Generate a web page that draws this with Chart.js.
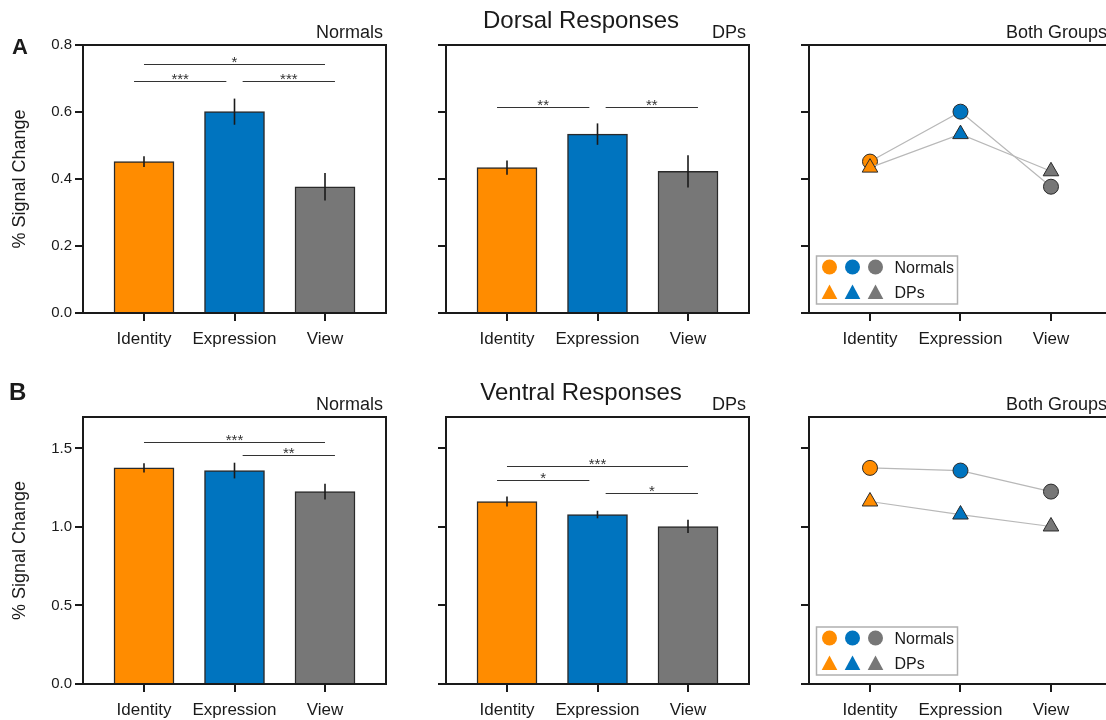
<!DOCTYPE html>
<html>
<head>
<meta charset="utf-8">
<title>Dorsal and Ventral Responses</title>
<script src="https://cdn.jsdelivr.net/npm/chart.js@4.4.0/dist/chart.umd.min.js"></script>
<style>
  html, body { margin: 0; padding: 0; background: #fff; overflow: hidden; width: 1106px; height: 720px; }
  .panel { position: absolute; }
</style>
</head>
<body>
<canvas id="a1" class="panel" width="400" height="360" style="left:0;top:0"></canvas>
<canvas id="a2" class="panel" width="360" height="360" style="left:400px;top:0"></canvas>
<canvas id="a3" class="panel" width="346" height="360" style="left:760px;top:0"></canvas>
<canvas id="b1" class="panel" width="400" height="360" style="left:0;top:360px"></canvas>
<canvas id="b2" class="panel" width="360" height="360" style="left:400px;top:360px"></canvas>
<canvas id="b3" class="panel" width="346" height="360" style="left:760px;top:360px"></canvas>
<script>
// data
var categories = ['Identity', 'Expression', 'View'];
var catColors = ['#ff8c00', '#0074bf', '#777777'];

var dorsalNormals = [0.452, 0.601, 0.377];
var dorsalNormalsErr = [0.016, 0.039, 0.041];
var dorsalDPs = [0.434, 0.534, 0.423];
var dorsalDPsErr = [0.021, 0.032, 0.048];

var ventralNormals = [1.376, 1.359, 1.225];
var ventralNormalsErr = [0.030, 0.050, 0.050];
var ventralDPs = [1.162, 1.079, 1.003];
var ventralDPsErr = [0.032, 0.024, 0.042];

// significance brackets: [from category, to category, level, stars]
var dorsalNormalsSig = [[0, 2, 0.742, '*'], [0, 1, 0.692, '***'], [1, 2, 0.692, '***']];
var dorsalDPsSig = [[0, 1, 0.616, '**'], [1, 2, 0.616, '**']];
var ventralNormalsSig = [[0, 2, 1.541, '***'], [1, 2, 1.459, '**']];
var ventralDPsSig = [[0, 2, 1.389, '***'], [0, 1, 1.302, '*'], [1, 2, 1.219, '*']];

var dorsalTicks = [0, 0.2, 0.4, 0.6, 0.8];
var ventralTicks = [0, 0.5, 1.0, 1.5];

var FONT = "'Liberation Sans', Arial, Helvetica, sans-serif";
var INK = '#1a1a1a';

// Function to turn a list of values into points
function toPoints(values) {
    return values.map(function (v, i) { return { x: i, y: v }; });
}

// Function to build the axes for one panel
function makeScales(cfg) {
    var gridOpts = { offset: false, drawOnChartArea: false, drawTicks: true, tickLength: 8,
        tickWidth: 2, tickColor: INK, lineWidth: 2, color: INK };
    return {
        x: {
            type: 'linear', min: -0.674, max: cfg.xMax || 2.674, offset: false,
            afterFit: function (s) {
                s.height = cfg.xh;
                // labels sit well inside the box, no extra room needed
                s.paddingLeft = 0;
                s.paddingRight = 0;
            },
            afterBuildTicks: function (s) {
                s.ticks = categories.map(function (c, i) { return { value: i }; });
            },
            ticks: {
                callback: function (v) { return categories[v]; },
                font: { family: FONT, size: 17 }, color: INK, padding: 8,
                maxRotation: 0, autoSkip: false
            },
            grid: gridOpts,
            border: { display: true, color: INK, width: 2 }
        },
        y: {
            type: 'linear', min: 0, max: cfg.yMax,
            afterFit: function (s) { s.width = cfg.yw; },
            afterBuildTicks: function (s) {
                s.ticks = cfg.yTicks.map(function (v) { return { value: v }; });
            },
            ticks: {
                callback: function (v) { return cfg.showY ? v.toFixed(1) : ''; },
                font: { family: FONT, size: 15 }, color: INK, padding: 3, autoSkip: false
            },
            grid: gridOpts,
            border: { display: true, color: INK, width: 2 },
            title: {
                display: !!cfg.showY, text: '% Signal Change', color: INK,
                font: { family: FONT, size: 18 }, padding: { top: 9, bottom: 0 }
            }
        }
    };
}

// Plugin drawing box, error bars, brackets, labels and legend
function panelPlugin(cfg) {
    return {
        id: 'panelDecor',
        afterDatasetsDraw: function (chart) {
            var ctx = chart.ctx;
            var xs = chart.scales.x, ys = chart.scales.y;
            ctx.save();

            // error bars
            if (cfg.errors) {
                var meta = chart.getDatasetMeta(0);
                ctx.strokeStyle = INK;
                ctx.lineWidth = 1.6;
                meta.data.forEach(function (bar, i) {
                    var v = cfg.values[i], e = cfg.errors[i];
                    ctx.beginPath();
                    ctx.moveTo(bar.x, ys.getPixelForValue(v - e));
                    ctx.lineTo(bar.x, ys.getPixelForValue(v + e));
                    ctx.stroke();
                });
            }

            // significance brackets
            if (cfg.sig) {
                cfg.sig.forEach(function (s) {
                    var x1 = s[0], x2 = s[1];
                    if (x2 - x1 === 1) {
                        x1 = s[0] - 0.11 + s[0] * 0.2;
                        x2 = x1 + 1.02;
                    }
                    var p1 = xs.getPixelForValue(x1), p2 = xs.getPixelForValue(x2);
                    var py = Math.round(ys.getPixelForValue(s[2])) + 0.5;
                    ctx.strokeStyle = '#333';
                    ctx.lineWidth = 1;
                    ctx.beginPath();
                    ctx.moveTo(p1, py);
                    ctx.lineTo(p2, py);
                    ctx.stroke();
                    ctx.fillStyle = '#333';
                    ctx.font = '15px ' + FONT;
                    ctx.textAlign = 'center';
                    ctx.textBaseline = 'alphabetic';
                    ctx.fillText(s[3], (p1 + p2) / 2, py + 2);
                });
            }
            ctx.restore();
        },
        afterDraw: function (chart) {
            var ctx = chart.ctx;
            var a = chart.chartArea;
            ctx.save();

            // box round the plot (right side of last column runs off the page)
            ctx.strokeStyle = INK;
            ctx.lineWidth = 2;
            ctx.beginPath();
            ctx.moveTo(a.left, a.bottom);
            ctx.lineTo(a.left, a.top);
            ctx.lineTo(a.right + 1, a.top);
            if (!cfg.openRight) {
                ctx.moveTo(a.right, a.top);
                ctx.lineTo(a.right, a.bottom);
            }
            ctx.moveTo(a.left, a.bottom);
            ctx.lineTo(a.right + 1, a.bottom);
            ctx.stroke();

            // group label at top right
            ctx.fillStyle = INK;
            ctx.font = '18px ' + FONT;
            ctx.textAlign = 'right';
            ctx.textBaseline = 'alphabetic';
            ctx.fillText(cfg.label, a.right - (cfg.openRight ? -1 : 3), a.top - 7);

            // extra texts (panel letters, row titles)
            (cfg.extras || []).forEach(function (t) {
                ctx.font = t.font;
                ctx.textAlign = t.align;
                ctx.fillText(t.text, t.x, t.y);
            });

            // legend of the both-groups panel
            if (cfg.legend) {
                var bx = a.left + 7.5, by = a.bottom - 57, bw = 141, bh = 48;
                ctx.strokeStyle = '#b0b0b0';
                ctx.lineWidth = 1.5;
                ctx.strokeRect(bx, by, bw, bh);
                var mx = [13, 36, 59];
                catColors.forEach(function (c, i) {
                    ctx.fillStyle = c;
                    ctx.beginPath();
                    ctx.arc(bx + mx[i], by + 11, 7.5, 0, Math.PI * 2);
                    ctx.fill();
                    ctx.beginPath();
                    ctx.moveTo(bx + mx[i], by + 28.5);
                    ctx.lineTo(bx + mx[i] + 7.8, by + 43);
                    ctx.lineTo(bx + mx[i] - 7.8, by + 43);
                    ctx.closePath();
                    ctx.fill();
                });
                ctx.fillStyle = INK;
                ctx.font = '16px ' + FONT;
                ctx.textAlign = 'left';
                ctx.fillText('Normals', bx + 78, by + 17);
                ctx.fillText('DPs', bx + 78, by + 42);
            }
            ctx.restore();
        }
    };
}

// Function to create a bar panel
function barPanel(id, values, errors, sig, cfg) {
    cfg.values = values;
    cfg.errors = errors;
    cfg.sig = sig;
    return new Chart(document.getElementById(id), {
        type: 'bar',
        data: {
            datasets: [{
                data: toPoints(values),
                backgroundColor: catColors,
                borderColor: '#2a2a2a',
                borderWidth: 1.5,
                barThickness: 60
            }]
        },
        options: {
            responsive: false,
            animation: false,
            layout: { autoPadding: false, padding: { top: cfg.pt, right: cfg.pr, left: 0, bottom: 0 } },
            plugins: { legend: { display: false }, tooltip: { enabled: false } },
            scales: makeScales(cfg)
        },
        plugins: [panelPlugin(cfg)]
    });
}

// Function to create the both-groups panel
function groupPanel(id, normals, dps, cfg) {
    cfg.legend = true;
    cfg.openRight = true;
    return new Chart(document.getElementById(id), {
        type: 'line',
        data: {
            datasets: [{
                label: 'DPs',
                data: toPoints(dps),
                pointStyle: 'triangle',
                pointRadius: 9,
                pointBackgroundColor: catColors,
                pointBorderColor: '#2a2a2a',
                pointBorderWidth: 1,
                borderColor: '#b8b8b8',
                borderWidth: 1.2,
                tension: 0
            }, {
                label: 'Normals',
                data: toPoints(normals),
                pointStyle: 'circle',
                pointRadius: 7.5,
                pointBackgroundColor: catColors,
                pointBorderColor: '#2a2a2a',
                pointBorderWidth: 1,
                borderColor: '#b8b8b8',
                borderWidth: 1.2,
                tension: 0
            }]
        },
        options: {
            responsive: false,
            animation: false,
            layout: { autoPadding: false, padding: { top: cfg.pt, right: cfg.pr, left: 0, bottom: 0 } },
            plugins: { legend: { display: false }, tooltip: { enabled: false } },
            scales: makeScales(cfg)
        },
        plugins: [panelPlugin(cfg)]
    });
}

// Dorsal row
barPanel('a1', dorsalNormals, dorsalNormalsErr, dorsalNormalsSig, {
    label: 'Normals', showY: true, yMax: 0.8, yTicks: dorsalTicks,
    yw: 83, pt: 45, pr: 14, xh: 47,
    extras: [{ text: 'A', x: 12, y: 54, font: 'bold 22px ' + FONT, align: 'left' }]
});
barPanel('a2', dorsalDPs, dorsalDPsErr, dorsalDPsSig, {
    label: 'DPs', showY: false, yMax: 0.8, yTicks: dorsalTicks,
    yw: 46, pt: 45, pr: 11, xh: 47,
    extras: [{ text: 'Dorsal Responses', x: 181, y: 28, font: '24px ' + FONT, align: 'center' }]
});
groupPanel('a3', dorsalNormals, dorsalDPs, {
    label: 'Both Groups', showY: false, yMax: 0.8, yTicks: dorsalTicks,
    yw: 49, pt: 45, pr: 0, xh: 47, xMax: 2.608
});

// Ventral row
barPanel('b1', ventralNormals, ventralNormalsErr, ventralNormalsSig, {
    label: 'Normals', showY: true, yMax: 1.7, yTicks: ventralTicks,
    yw: 83, pt: 57, pr: 14, xh: 36,
    extras: [{ text: 'B', x: 9, y: 40, font: 'bold 24px ' + FONT, align: 'left' }]
});
barPanel('b2', ventralDPs, ventralDPsErr, ventralDPsSig, {
    label: 'DPs', showY: false, yMax: 1.7, yTicks: ventralTicks,
    yw: 46, pt: 57, pr: 11, xh: 36,
    extras: [{ text: 'Ventral Responses', x: 181, y: 40, font: '24px ' + FONT, align: 'center' }]
});
groupPanel('b3', ventralNormals, ventralDPs, {
    label: 'Both Groups', showY: false, yMax: 1.7, yTicks: ventralTicks,
    yw: 49, pt: 57, pr: 0, xh: 36, xMax: 2.608
});
</script>
</body>
</html>
